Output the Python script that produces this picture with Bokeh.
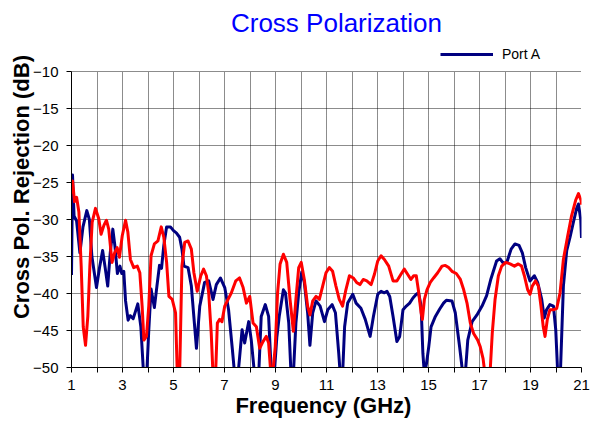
from bokeh.plotting import figure
from bokeh.models import FixedTicker, Legend, LegendItem, Label, Range1d
from bokeh.embed import file_html
from bokeh.resources import INLINE

# ---- data ----
freq_port_a = [1.00, 1.04, 1.10, 1.20, 1.33, 1.45, 1.60, 1.70, 1.80, 1.98, 2.10, 2.22, 2.32, 2.42, 2.52,
               2.62, 2.70, 2.80, 2.90, 2.97, 3.05, 3.12, 3.22, 3.30, 3.42, 3.60, 3.72, 3.82, 3.95, 4.03,
               4.12, 4.25, 4.35, 4.45, 4.53, 4.62, 4.73, 4.88, 5.00, 5.11, 5.24, 5.33, 5.41, 5.57, 5.70,
               5.90, 6.03, 6.22, 6.38, 6.55, 6.68, 6.84, 7.01, 7.16, 7.31, 7.40, 7.53, 7.69, 7.79, 7.95,
               8.05, 8.18, 8.34, 8.44, 8.60, 8.73, 8.84, 8.95, 9.05, 9.15, 9.31, 9.39, 9.52, 9.61, 9.70,
               9.80, 9.91, 10.03, 10.13, 10.26, 10.35, 10.46, 10.59, 10.75, 10.92, 11.05, 11.22, 11.35,
               11.48, 11.54, 11.63, 11.71, 11.83, 12.03, 12.16, 12.35, 12.52, 12.71, 12.84, 13.01, 13.14,
               13.27, 13.37, 13.48, 13.61, 13.76, 13.87, 14.00, 14.13, 14.26, 14.39, 14.52, 14.61, 14.71,
               14.78, 14.84, 14.92, 15.01, 15.10, 15.27, 15.44, 15.59, 15.70, 15.92, 16.05, 16.22, 16.35,
               16.44, 16.54, 16.71, 16.90, 17.10, 17.28, 17.45, 17.67, 17.80, 17.93, 18.07, 18.24, 18.39,
               18.55, 18.68, 18.81, 18.98, 19.15, 19.28, 19.44, 19.54, 19.63, 19.76, 19.90, 19.99, 20.07,
               20.17, 20.29, 20.42, 20.55, 20.68, 20.81, 20.88, 20.97, 21.00]
db_port_a = [-37.5, -24.0, -29.5, -30.2, -34.5, -31.0, -28.8, -30.0, -35.0, -39.2, -36.5, -34.2, -36.5, -39.0, -34.5,
             -31.3, -33.5, -37.3, -36.3, -37.3, -37.0, -41.0, -43.6, -43.0, -43.4, -41.4, -44.5, -50.5, -51.0, -45.0,
             -39.4, -41.9, -39.0, -36.2, -36.6, -33.5, -31.0, -31.0, -31.5, -31.8, -32.4, -34.0, -36.3, -36.5, -39.0,
             -47.4, -41.7, -38.5, -38.3, -40.8, -38.8, -37.9, -39.2, -42.2, -47.6, -51.0, -51.0, -44.9, -46.7, -43.8,
             -46.3, -51.0, -51.0, -43.1, -41.5, -43.1, -51.0, -51.0, -46.0, -43.0, -39.5, -39.9, -44.0, -51.0, -51.0,
             -44.0, -39.9, -37.1, -38.5, -42.6, -47.0, -42.6, -41.0, -41.7, -43.8, -42.2, -41.5, -42.6,
             -48.1, -51.0, -51.0, -44.5, -41.3, -40.1, -41.3, -42.0, -43.5, -45.8, -43.1, -40.1, -39.7,
             -39.9, -39.7, -40.4, -43.1, -46.5, -45.8, -42.2, -41.7, -41.3, -40.6, -40.1, -39.9, -41.7,
             -48.1, -51.0, -49.5, -47.2, -44.5, -43.1, -42.1, -41.3, -40.9, -41.0, -42.6, -47.2, -51.0,
             -51.0, -46.3, -43.8, -42.9, -41.7, -40.3, -38.0, -35.6, -35.3, -35.9, -35.8, -34.0, -33.3,
             -33.5, -34.5, -36.5, -38.3, -37.6, -38.5, -40.8, -43.3, -42.2, -41.5, -41.7, -44.9, -51.0,
             -51.0, -39.0, -34.2, -32.4, -30.4, -28.5, -27.9, -30.0, -32.5]

freq_port_b = [1.00, 1.04, 1.12, 1.20, 1.29, 1.38, 1.46, 1.55, 1.64, 1.72, 1.81, 1.94, 2.07, 2.16, 2.27,
               2.37, 2.46, 2.59, 2.69, 2.79, 2.88, 2.99, 3.12, 3.21, 3.31, 3.44, 3.58, 3.68, 3.77, 3.84,
               3.94, 4.03, 4.12, 4.25, 4.39, 4.52, 4.62, 4.73, 4.82, 4.95, 5.08, 5.15, 5.24, 5.33, 5.44,
               5.57, 5.70, 5.80, 5.93, 6.07, 6.18, 6.29, 6.38, 6.48, 6.55, 6.65, 6.72, 6.81, 6.90, 7.01,
               7.14, 7.27, 7.44, 7.59, 7.73, 7.86, 7.99, 8.12, 8.25, 8.38, 8.51, 8.64, 8.73, 8.81, 8.90,
               8.99, 9.08, 9.18, 9.31, 9.44, 9.57, 9.70, 9.80, 9.91, 10.01, 10.13, 10.26, 10.35, 10.46,
               10.59, 10.72, 10.85, 10.98, 11.11, 11.24, 11.37, 11.50, 11.63, 11.76, 11.90, 12.05, 12.18,
               12.31, 12.44, 12.58, 12.75, 12.88, 13.01, 13.14, 13.27, 13.44, 13.61, 13.76, 13.92, 14.05,
               14.18, 14.31, 14.42, 14.52, 14.61, 14.71, 14.76, 14.84, 14.94, 15.07, 15.20, 15.36, 15.53,
               15.66, 15.79, 15.92, 16.09, 16.25, 16.38, 16.51, 16.64, 16.77, 16.93, 17.03, 17.14, 17.22,
               17.41, 17.50, 17.61, 17.74, 17.87, 18.03, 18.20, 18.37, 18.52, 18.65, 18.76, 18.89, 18.98,
               19.07, 19.20, 19.31, 19.41, 19.50, 19.57, 19.66, 19.76, 19.90, 20.03, 20.16, 20.29, 20.46,
               20.61, 20.77, 20.88, 20.98, 21.00]
db_port_b = [-26.5, -24.8, -27.6, -27.0, -29.0, -36.3, -44.5, -47.0, -43.1, -36.3, -30.4, -28.5, -29.9, -32.0, -30.8,
             -30.1, -31.3, -35.8, -34.5, -33.8, -35.1, -32.2, -30.1, -31.7, -35.4, -36.5, -36.3, -37.2, -41.7, -46.3,
             -45.8, -41.7, -34.9, -33.3, -32.9, -31.0, -32.4, -35.8, -40.4, -40.8, -42.6, -51.0, -51.0, -36.3, -33.1,
             -32.9, -34.0, -37.2, -39.7, -37.6, -36.7, -37.6, -39.9, -45.4, -51.0, -51.0, -44.0, -43.5, -43.8, -41.7,
             -40.8, -39.9, -38.3, -37.9, -39.2, -41.3, -40.4, -44.0, -44.5, -47.4, -46.5, -45.8, -46.7, -50.5, -50.5,
             -47.2, -40.0, -36.0, -34.7, -35.8, -40.8, -45.1, -40.8, -36.5, -35.8, -38.1, -41.7, -42.9, -41.0,
             -40.4, -40.8, -39.0, -37.2, -36.5, -37.0, -39.0, -40.8, -41.7, -39.5, -37.6, -37.9, -38.5,
             -38.8, -38.1, -38.3, -38.8, -37.4, -35.6, -34.9, -35.4, -36.3, -38.3, -38.3, -37.4, -36.7,
             -37.4, -38.1, -37.6, -37.6, -39.7, -42.6, -43.5, -40.8, -39.5, -38.5, -37.9, -37.2, -36.3,
             -36.2, -36.5, -37.0, -37.3, -38.1, -39.5, -41.3, -44.0, -45.4, -46.3, -47.2, -48.8, -51.0,
             -51.0, -45.4, -40.8, -37.6, -36.3, -35.8, -36.0, -36.3, -36.0, -36.3, -37.6, -39.5, -40.1,
             -39.0, -38.3, -39.0, -41.7, -44.5, -45.8, -43.5, -42.2, -42.2, -42.0, -39.9, -35.4, -32.2,
             -29.5, -27.4, -26.5, -27.4, -28.0]

x_major_ticks = [1, 3, 5, 7, 9, 11, 13, 15, 17, 19, 21]
x_minor_ticks = [2, 4, 6, 8, 10, 12, 14, 16, 18, 20]
y_ticks = [-50, -45, -40, -35, -30, -25, -20, -15, -10]
y_min, y_max = -50, -10

title_text = "Cross Polarization"
x_label = "Frequency  (GHz)"
y_label = "Cross Pol. Rejection  (dB)"
legend_label = "Port A"

FONT = "Liberation Sans"
NAVY = "#000080"
RED = "#FF0000"

# the frame extends to the top of the canvas so that the title and legend
# (drawn inside it) are not clipped; axis and grid are bounded to -50..-10
PX_PER_DB = 7.4
FRAME_TOP_PAD = 71
y_top = y_max + FRAME_TOP_PAD / PX_PER_DB

p = figure(width=595, height=421, output_backend="svg", toolbar_location=None,
           x_range=Range1d(1, 21), y_range=Range1d(y_min, y_top),
           min_border_left=71, min_border_right=14, min_border_top=0, min_border_bottom=54)
p.outline_line_color = None
p.background_fill_color = "white"
p.border_fill_color = "white"

r_a = p.line(freq_port_a, db_port_a, line_color=NAVY, line_width=3, line_join="round")
r_b = p.line(freq_port_b, db_port_b, line_color=RED, line_width=3, line_join="round")

# axes
p.xaxis.ticker = FixedTicker(ticks=x_major_ticks, minor_ticks=x_minor_ticks)
p.yaxis.ticker = FixedTicker(ticks=y_ticks, minor_ticks=[])
p.yaxis.bounds = (y_min, y_max)
for ax in (p.xaxis[0], p.yaxis[0]):
    ax.major_label_text_font = FONT
    ax.major_label_text_font_size = "15px"
    ax.major_label_text_color = "black"
    ax.axis_line_color = "black"
    ax.axis_line_width = 1
    ax.major_tick_line_color = "black"
    ax.minor_tick_line_color = "black"
    ax.major_tick_in = 0
    ax.minor_tick_in = 0
    ax.axis_label_text_font = FONT
    ax.axis_label_text_font_style = "bold"
    ax.axis_label_text_font_size = "22px"
    ax.axis_label_text_color = "black"
p.xaxis.major_tick_out = 5
p.xaxis.minor_tick_out = 5
p.xaxis.major_label_standoff = 7
p.xaxis.axis_label = x_label
p.xaxis.axis_label_standoff = 0
p.yaxis.major_tick_out = 5
p.yaxis.minor_tick_out = 0
p.yaxis.major_label_standoff = 8
p.yaxis.axis_label = y_label
p.yaxis.axis_label_standoff = -4

# grid
for g in (p.xgrid[0], p.ygrid[0]):
    g.grid_line_color = "black"
    g.grid_line_alpha = 0.9
    g.grid_line_dash = "1 1"
p.xgrid.minor_grid_line_color = "black"
p.xgrid.minor_grid_line_alpha = 0.9
p.xgrid.minor_grid_line_dash = "1 1"
p.xgrid.cross_bounds = (y_min, y_max)
p.ygrid.bounds = (y_min, y_max)

# title (inside the extended frame)
p.add_layout(Label(x=11.39, y=y_max + 49 / PX_PER_DB, text=title_text, text_font=FONT,
                   text_font_size="26px", text_color="#0000FF", text_align="center",
                   text_baseline="middle"))

legend = Legend(items=[LegendItem(label=legend_label, renderers=[r_a])],
                location=(369, 305),
                glyph_width=53, glyph_height=14, label_height=14,
                label_standoff=9, padding=0, margin=0, spacing=0,
                border_line_color=None, background_fill_alpha=0,
                label_text_font=FONT, label_text_font_size="14px", label_text_color="black")
p.add_layout(legend, "center")

open("out.html", "w").write(file_html(p, INLINE))
